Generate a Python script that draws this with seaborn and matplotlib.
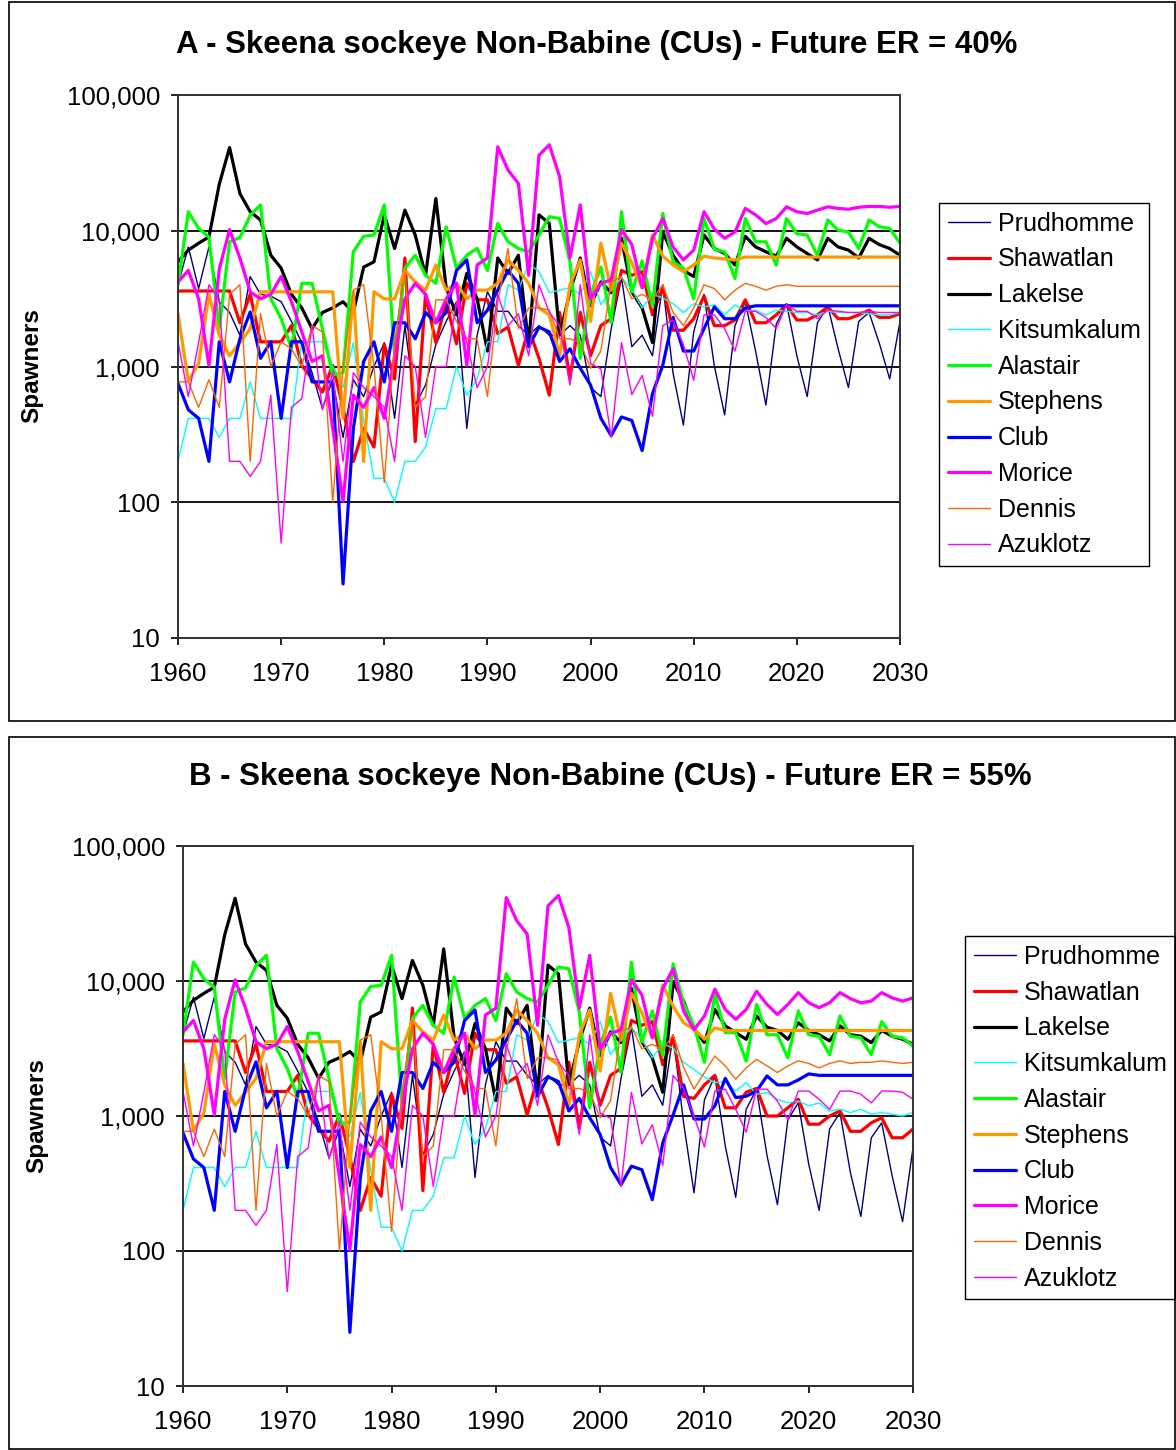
import matplotlib
matplotlib.use("Agg")
import numpy as np
import pandas as pd
import matplotlib.pyplot as plt
import seaborn as sns
from matplotlib.patches import Rectangle
from matplotlib.ticker import FixedLocator, FuncFormatter, NullLocator

# ============================================
# DATA (spawners per CU)
# ============================================

HIST_YEARS = list(range(1960, 2008))
PROJ_YEARS = list(range(2008, 2031))

SERIES = ["Prudhomme", "Shawatlan", "Lakelse", "Kitsumkalum", "Alastair",
          "Stephens", "Club", "Morice", "Dennis", "Azuklotz"]

# observed 1960-2007 (same in both panels)
prudhomme_hist = [4000, 7600, 3750, 7600, 3000, 2500, 1700, 4600, 3400, 3300,
                  3000, 2150, 1500, 900, 490, 800, 300, 800, 600, 1000,
                  1500, 415, 2000, 520, 730, 1450, 2150, 3000, 350, 1700,
                  3550, 2550, 2550, 2000, 1700, 2000, 1700, 1700, 2000, 1700,
                  700, 600, 1900, 4500, 1400, 1700, 1200, 4000]
shawatlan_hist = [3600, 3600, 3600, 3600, 3600, 3600, 2100, 3400, 1520, 1520,
                  1520, 2000, 1020, 810, 650, 1020, 500, 200, 350, 255,
                  1450, 810, 6300, 280, 3400, 1500, 3000, 1470, 4100, 3100,
                  3100, 1750, 1950, 1020, 1900, 1150, 615, 2500, 810, 2500,
                  1200, 2000, 2250, 5100, 4700, 5000, 2400, 3800]
lakelse_hist = [5900, 7200, 8100, 9000, 22000, 41000, 18800, 13800, 12000, 6600,
                5300, 3400, 2700, 1900, 2500, 2700, 3000, 2500, 5400, 5900,
                13100, 7400, 14200, 9300, 4700, 17300, 3800, 2400, 4850, 3150,
                1300, 6300, 4850, 6600, 1450, 13100, 11300, 1700, 3550, 6300,
                2800, 4200, 3500, 8800, 3550, 2700, 1500, 9800]
kitsumkalum_hist = [200, 415, 415, 415, 300, 415, 415, 770, 415, 415,
                    415, 415, 1520, 1520, 1520, 1000, 700, 1500, 400, 150,
                    150, 100, 200, 200, 255, 490, 490, 1000, 615, 810,
                    1520, 1520, 4000, 3650, 5700, 5000, 3500, 3650, 3800, 3400,
                    5000, 2850, 3700, 4500, 3700, 2700, 3400, 3200]
alastair_hist = [4000, 13800, 10400, 9000, 1900, 8300, 8900, 13000, 15500, 3150,
                 2250, 1360, 4100, 4100, 1900, 870, 900, 7000, 9100, 9300,
                 15500, 1200, 5300, 6600, 4700, 4100, 10700, 5300, 6600, 7400,
                 5100, 11300, 8300, 7400, 7000, 9300, 12700, 12300, 5900, 1150,
                 3400, 5400, 2100, 13800, 3550, 6000, 2800, 13400]
stephens_hist = [2450, 780, 1050, 3400, 1700, 1200, 1500, 1900, 3550, 3550,
                 3550, 3550, 3550, 3550, 3550, 3550, 415, 3550, 200, 3550,
                 3150, 3150, 5100, 4200, 3650, 5600, 3650, 4100, 3150, 3650,
                 3650, 4100, 6100, 5100, 4100, 2700, 2400, 1200, 4000, 6100,
                 2150, 8100, 3650, 8100, 5800, 3800, 9300, 6500]
club_hist = [750, 480, 415, 200, 1520, 770, 1600, 2520, 1150, 1520,
             415, 1520, 1520, 770, 770, 770, 25, 350, 1090, 1520,
             770, 2100, 2100, 1600, 2500, 2100, 2500, 5100, 6100, 2100,
             2600, 3650, 5100, 4100, 1400, 1950, 1800, 1090, 1350, 970,
             730, 415, 310, 425, 400, 240, 630, 1020]
morice_hist = [4200, 5100, 3150, 1020, 5200, 10200, 6300, 3550, 3150, 3400,
               4600, 3000, 1800, 1090, 1200, 350, 102, 615, 500, 700,
               415, 1200, 3150, 4100, 3400, 2100, 3150, 4100, 1020, 5600,
               6300, 41500, 28000, 22300, 4700, 36000, 43000, 25000, 6300, 15500,
               3150, 4100, 4350, 10200, 7900, 3800, 8800, 12300]
dennis_hist = [770, 770, 500, 800, 500, 3400, 4000, 200, 2450, 1000,
               1520, 1350, 1000, 2000, 1800, 100, 1000, 3650, 4000, 1000,
               140, 1500, 5100, 500, 600, 3100, 3100, 2150, 1600, 1600,
               600, 3000, 7400, 1900, 2700, 2700, 2600, 1600, 1600, 1500,
               970, 1300, 4200, 4600, 3150, 3400, 3100, 4000]
azuklotz_hist = [1520, 600, 1500, 4000, 3150, 200, 200, 155, 200, 615,
                 50, 500, 580, 2000, 480, 900, 200, 900, 700, 600,
                 500, 200, 1200, 1000, 300, 1000, 1000, 3000, 1500, 700,
                 1000, 3400, 2000, 2450, 1200, 4000, 2500, 2000, 730, 4000,
                 1050, 960, 300, 1500, 620, 860, 430, 2000]

# projections 2008-2030, future ER = 40%
prudhomme_40 = [890, 370, 1800, 3400, 1010, 440, 2000, 3000, 1300, 520, 2050, 2900,
                1200, 600, 2100, 2800, 1350, 700, 2150, 2500, 1480, 810, 2150]
shawatlan_40 = [1850, 1850, 2250, 3300, 2000, 2000, 2200, 3100, 2100, 2100, 2400, 2850,
                2200, 2200, 2400, 2750, 2250, 2250, 2400, 2600, 2300, 2300, 2450]
lakelse_40 = [6600, 5100, 4600, 9300, 7400, 6800, 5600, 9100, 7600, 7000, 6500, 8800,
              7600, 6800, 6100, 8800, 7600, 7200, 6300, 8800, 7900, 7400, 6600]
kitsumkalum_40 = [2900, 2500, 2900, 2750, 2850, 2400, 2850, 2550, 2600, 2400, 2600, 2550,
                  2500, 2500, 2400, 2550, 2500, 2500, 2500, 2450, 2400, 2400, 2500]
alastair_40 = [5900, 5300, 3150, 12300, 7300, 7000, 4450, 12300, 8300, 8300, 5600, 12300,
               9500, 9300, 6600, 12000, 10100, 9800, 7400, 12000, 10700, 10400, 8100]
stephens_40 = [5600, 5000, 5600, 6500, 6300, 6200, 6100, 6400, 6400, 6400, 6400, 6400,
               6400, 6400, 6400, 6400, 6400, 6400, 6400, 6400, 6400, 6400, 6400]
club_40 = [2300, 1300, 1300, 1900, 2750, 2250, 2250, 2700, 2800, 2800, 2800, 2800,
           2800, 2800, 2800, 2800, 2800, 2800, 2800, 2800, 2800, 2800, 2800]
morice_40 = [7600, 6100, 7200, 13800, 10300, 8800, 9800, 14600, 13100, 11300, 12300, 15000,
             13800, 13400, 14200, 15000, 14600, 14400, 14900, 15100, 15100, 14900, 15100]
dennis_40 = [2500, 2000, 2700, 4000, 3750, 3100, 3650, 4100, 3900, 3650, 3900, 4000,
             3900, 3900, 3900, 3900, 3900, 3900, 3900, 3900, 3900, 3900, 3900]
azuklotz_40 = [2200, 1450, 790, 2400, 2400, 1900, 1300, 2550, 2550, 2300, 1900, 2850,
               2550, 2550, 2250, 2600, 2550, 2500, 2500, 2550, 2500, 2500, 2500]

# projections 2008-2030, future ER = 55%
prudhomme_55 = [890, 270, 1320, 1980, 600, 250, 1120, 1580, 510, 220, 940, 1250,
                440, 200, 800, 1060, 380, 180, 690, 890, 360, 165, 580]
shawatlan_55 = [1400, 1350, 1700, 2000, 1150, 1150, 1500, 1600, 1000, 1000, 1150, 1330,
                870, 870, 1000, 1090, 770, 770, 890, 970, 690, 690, 800]
lakelse_55 = [7100, 4400, 3500, 6150, 4650, 4150, 3700, 5500, 4550, 4300, 3700, 4900,
              4300, 4000, 3600, 4650, 4000, 3900, 3500, 4300, 3900, 3700, 3400]
kitsumkalum_55 = [2500, 2200, 1950, 1770, 1800, 1530, 1770, 1450, 1490, 1330, 1250, 1290,
                  1190, 1250, 1090, 1120, 1060, 1120, 1030, 1060, 1030, 1000, 1060]
alastair_55 = [6900, 4650, 2500, 8000, 4150, 4150, 2550, 6700, 4000, 4000, 2700, 6000,
               4000, 3900, 2850, 5500, 3900, 3800, 2850, 5000, 3900, 3800, 3300]
stephens_55 = [4900, 4400, 3700, 4500, 4300, 4300, 4300, 4300, 4300, 4300, 4300, 4300,
               4300, 4300, 4300, 4300, 4300, 4300, 4300, 4300, 4300, 4300, 4300]
club_55 = [1700, 950, 950, 1190, 1900, 1370, 1400, 1530, 1980, 1700, 1700, 1850,
           2050, 2000, 2000, 2000, 2000, 2000, 2000, 2000, 2000, 2000, 2000]
morice_55 = [6000, 4360, 5500, 8700, 6150, 5200, 6150, 8400, 6700, 5650, 6700, 8200,
             6900, 6350, 6900, 8200, 7400, 6900, 7100, 8200, 7500, 7100, 7500]
dennis_55 = [2300, 1580, 2100, 2780, 2350, 1870, 2270, 2630, 2350, 2100, 2350, 2560,
             2450, 2270, 2450, 2560, 2450, 2500, 2500, 2560, 2500, 2450, 2500]
azuklotz_55 = [1600, 1000, 590, 1530, 1580, 1120, 760, 1580, 1580, 1290, 940, 1530,
               1530, 1330, 1120, 1530, 1530, 1450, 1250, 1530, 1530, 1500, 1330]

HIST = dict(zip(SERIES, [prudhomme_hist, shawatlan_hist, lakelse_hist, kitsumkalum_hist,
                         alastair_hist, stephens_hist, club_hist, morice_hist,
                         dennis_hist, azuklotz_hist]))
PROJ_40 = dict(zip(SERIES, [prudhomme_40, shawatlan_40, lakelse_40, kitsumkalum_40,
                            alastair_40, stephens_40, club_40, morice_40,
                            dennis_40, azuklotz_40]))
PROJ_55 = dict(zip(SERIES, [prudhomme_55, shawatlan_55, lakelse_55, kitsumkalum_55,
                            alastair_55, stephens_55, club_55, morice_55,
                            dennis_55, azuklotz_55]))

COLORS = {"Prudhomme": "#000080", "Shawatlan": "#FF0000", "Lakelse": "#000000",
          "Kitsumkalum": "#00FFFF", "Alastair": "#00FF00", "Stephens": "#FF9900",
          "Club": "#0000FF", "Morice": "#FF00FF", "Dennis": "#FF6600",
          "Azuklotz": "#FF00FF"}
WIDTHS = {"Prudhomme": 1.0, "Shawatlan": 2.3, "Lakelse": 2.3, "Kitsumkalum": 1.0,
          "Alastair": 2.3, "Stephens": 2.3, "Club": 2.3, "Morice": 2.3,
          "Dennis": 1.0, "Azuklotz": 1.0}

W, H = 1176, 1450


def build_frame(proj):
    rows = []
    for name in SERIES:
        vals = HIST[name] + proj[name]
        for yr, v in zip(HIST_YEARS + PROJ_YEARS, vals):
            rows.append((name, yr, v))
    return pd.DataFrame(rows, columns=["series", "year", "spawners"])


def fx(px):
    return px / W


def fy(py):
    return 1 - py / H


def draw_panel(fig, df, title, box, axes_px, title_px, ylab_px, legend_px):
    # outer frame around the whole panel
    x0, y0, x1, y1 = box
    fig.add_artist(Rectangle((fx(x0), fy(y1)), fx(x1 - x0), (y1 - y0) / H,
                             transform=fig.transFigure, fill=False,
                             ec="black", lw=1.2))

    l, t, r, b = axes_px
    ax = fig.add_axes([fx(l), fy(b), fx(r - l), (b - t) / H])

    for name in SERIES:
        sub = df[df["series"] == name]
        sns.lineplot(data=sub, x="year", y="spawners", ax=ax,
                     color=COLORS[name], lw=WIDTHS[name], label=name)

    ax.set_yscale("log")
    ax.set_ylim(10, 100000)
    ax.set_xlim(1960, 2030)
    ax.yaxis.set_major_locator(FixedLocator([10, 100, 1000, 10000, 100000]))
    ax.yaxis.set_minor_locator(NullLocator())
    ax.yaxis.set_major_formatter(FuncFormatter(lambda v, p: f"{int(round(v)):,}"))
    ax.set_xticks(range(1960, 2031, 10))
    ax.yaxis.grid(True, color="black", lw=1.3)
    ax.set_axisbelow(True)
    ax.tick_params(axis="both", direction="out", length=5, width=1.2,
                   labelsize=18.5, colors="black", left=True, bottom=True)
    ax.tick_params(axis="y", pad=8)
    ax.tick_params(axis="x", pad=12)
    for sp in ax.spines.values():
        sp.set_color("#333333")
        sp.set_linewidth(1.4)
    ax.set_xlabel("")
    ax.set_ylabel("")

    fig.text(fx(title_px[0]), fy(title_px[1]), title, ha="center", va="center",
             fontsize=22.5, fontweight="bold", color="black")
    fig.text(fx(ylab_px[0]), fy(ylab_px[1]), "Spawners", rotation=90,
             ha="center", va="center", fontsize=17.5, fontweight="bold",
             color="black")

    ax.legend(loc="upper left", bbox_to_anchor=(fx(legend_px[0]), fy(legend_px[1])),
              bbox_transform=fig.transFigure, frameon=True, fancybox=False,
              edgecolor="black", framealpha=1, fontsize=18, handlelength=1.7,
              handletextpad=0.3, labelspacing=0.47, borderpad=0.35,
              borderaxespad=0, labelcolor="black")
    ax.get_legend().get_frame().set_linewidth(1.0)
    return ax


sns.set_style("white")
plt.rcParams["font.family"] = ["Liberation Sans", "DejaVu Sans"]
plt.rcParams["text.color"] = "black"

fig = plt.figure(figsize=(W / 100, H / 100), dpi=100)

draw_panel(fig, build_frame(PROJ_40),
           "A - Skeena sockeye Non-Babine (CUs) - Future ER = 40%",
           box=(9, 2, 1175, 721), axes_px=(178, 95, 900, 638),
           title_px=(597, 45), ylab_px=(32, 366), legend_px=(939, 203))

draw_panel(fig, build_frame(PROJ_55),
           "B - Skeena sockeye Non-Babine (CUs) - Future ER = 55%",
           box=(9, 737, 1175, 1449), axes_px=(183, 846, 913, 1386),
           title_px=(610, 777), ylab_px=(37, 1116), legend_px=(965, 936))

fig.savefig("out.png", dpi=100, facecolor="white")
